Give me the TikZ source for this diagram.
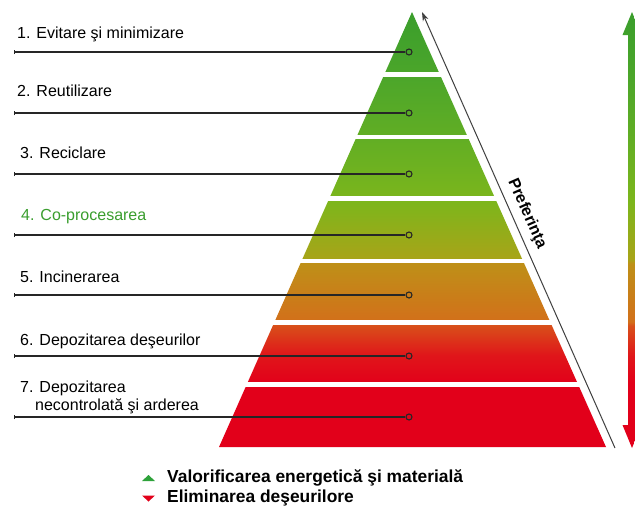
\documentclass[tikz,border=0pt]{standalone}
\usepackage{fontspec}
\setmainfont{Liberation Sans}
\usetikzlibrary{arrows.meta}
\definecolor{s0}{HTML}{E2001A}
\definecolor{s1}{HTML}{E0161A}
\definecolor{s2}{HTML}{D8501A}
\definecolor{s3}{HTML}{D2701A}
\definecolor{s4}{HTML}{BE9018}
\definecolor{s5}{HTML}{A8A418}
\definecolor{s6}{HTML}{7CB61C}
\definecolor{s7}{HTML}{62AE24}
\definecolor{s8}{HTML}{4CA62A}
\definecolor{s9}{HTML}{3A9E2C}
\definecolor{labgreen}{HTML}{3A9E2E}
\definecolor{leadgray}{HTML}{262626}
\definecolor{leggreen}{HTML}{2EA23A}
\definecolor{legred}{HTML}{E2001A}
\pgfdeclareverticalshading{pyr}{100bp}{color(0bp)=(s0); color(32.36bp)=(s0); color(35.57bp)=(s1); color(39.02bp)=(s2); color(39.48bp)=(s3); color(46.15bp)=(s4); color(46.61bp)=(s5); color(53.28bp)=(s6); color(60.4bp)=(s7); color(67.53bp)=(s8); color(75bp)=(s9); color(100bp)=(s9)}
\begin{document}
\begin{tikzpicture}[x=1pt,y=-1pt,
  lab/.style={anchor=base west, inner sep=0pt, font=\fontsize{16}{18}\selectfont},
  legtext/.style={anchor=base west, inner sep=0pt, font=\bfseries\fontsize{17.4}{19}\selectfont},
  dot/.style={circle, draw=leadgray, line width=1.1pt, inner sep=0pt, minimum size=6pt},
  lead/.style={draw=leadgray, line width=1.3pt, {Bar[width=4pt,line width=1pt]}-},
  pref/.style={draw=black!75, line width=1pt, -{Stealth[length=9pt,width=6pt]}},
  gap/.style={fill=white}]
\clip (0,0) rectangle (635,507);
\fill[white] (0,0) rectangle (635,507);
% pyramid
\shade[shading=pyr] (412,12) -- (606,447) -- (219,447) -- cycle;
\foreach \g in {74.5,137,198.5,261,322.5,384.5}
  \fill[gap] (205,\g-2.4) rectangle (612,\g+2.4);
% right double arrow
\shade[shading=pyr] (632,12) -- (641.5,35) -- (636,35) -- (636,425) -- (641.5,425) -- (632,448) -- (622.5,425) -- (628,425) -- (628,35) -- (622.5,35) -- cycle;
% preference arrow
\coordinate (pb) at (615,448);
\coordinate (pt) at (422,12);
\draw[pref] (pb) -- (pt);
\node[rotate=-66.1, inner sep=0pt, font=\bfseries\fontsize{16}{18}\selectfont] (preflab) at (527,214) {Preferinţa};
% labels
\node[lab] (t1) at (17,38) {1. Evitare şi minimizare};
\node[lab] (t2) at (17,96) {2. Reutilizare};
\node[lab] (t3) at (20,158) {3. Reciclare};
\node[lab, text=labgreen] (t4) at (21,220) {4. Co-procesarea};
\node[lab] (t5) at (20,282) {5. Incinerarea};
\node[lab] (t6) at (20,345) {6. Depozitarea deşeurilor};
\node[lab] (t7) at (20,392) {7. Depozitarea};
\node[lab] (t7b) at (35,410) {necontrolată şi arderea};
% leader lines
\foreach \i/\y in {1/52,2/113,3/174,4/235,5/295,6/356,7/417} {
  \coordinate (l\i) at (14,\y);
  \node[dot] (d\i) at (409,\y) {};
  \draw[lead] (l\i) -- (d\i);
}
% legend
\fill[leggreen] (142,481) -- (155,481) -- (148.5,475) -- cycle;
\fill[legred] (142,495.5) -- (155,495.5) -- (148.5,501.5) -- cycle;
\node[legtext] (lg1) at (167,482) {Valorificarea energetică şi materială};
\node[legtext] (lg2) at (167,502) {Eliminarea deşeurilore};
\end{tikzpicture}
\end{document}
